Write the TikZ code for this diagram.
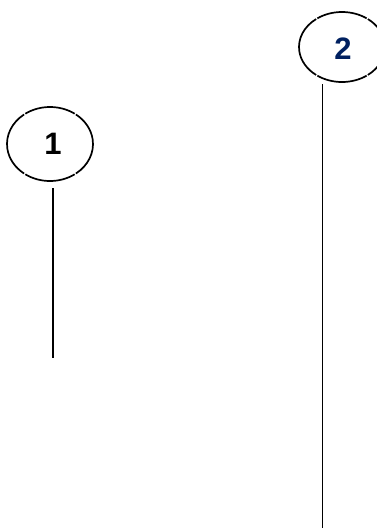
\documentclass[tikz,border=0pt]{standalone}
\usepackage{fontspec}
\setmainfont{Liberation Sans}
\usetikzlibrary{shapes.geometric}
\definecolor{navy}{HTML}{002060}
\tikzset{
  bubble/.style={ellipse, minimum width=86pt, minimum height=74pt, inner sep=0pt, draw=none},
  numtext/.style={font=\bfseries\fontsize{31}{31}\selectfont, inner sep=0pt},
  arcline/.style={line width=1.7pt, black},
  stem/.style={line width=1.7pt, black},
}
\newcommand{\gapellipse}[3]{%
  \foreach \s/\e in {-53/53, 55/125, 127/233, 235/305}{%
    \draw[arcline] (#1.center) ++(\s:#2 and #3) arc[start angle=\s, end angle=\e, x radius=#2, y radius=#3];
  }}
\begin{document}
\begin{tikzpicture}[x=1pt,y=-1pt]
  \useasboundingbox (0,0) rectangle (377,528);
  % bubble 1
  \node[bubble] (b1) at (50,144) {};
  \gapellipse{b1}{43pt}{37pt}
  \node[numtext, text=black] (t1) at (53,144) {1};
  % bubble 2
  \node[bubble] (b2) at (342,47) {};
  \gapellipse{b2}{43pt}{35pt}
  \node[numtext, text=navy] (t2) at (343,49) {2};
  % stems
  \coordinate (s1t) at (52.7,188);
  \coordinate (s1b) at (52.7,358);
  \draw[stem] (s1t) -- (s1b);
  \coordinate (s2t) at (322.5,84);
  \coordinate (s2b) at (322.5,528);
  \draw[stem] (s2t) -- (s2b);
\end{tikzpicture}
\end{document}
